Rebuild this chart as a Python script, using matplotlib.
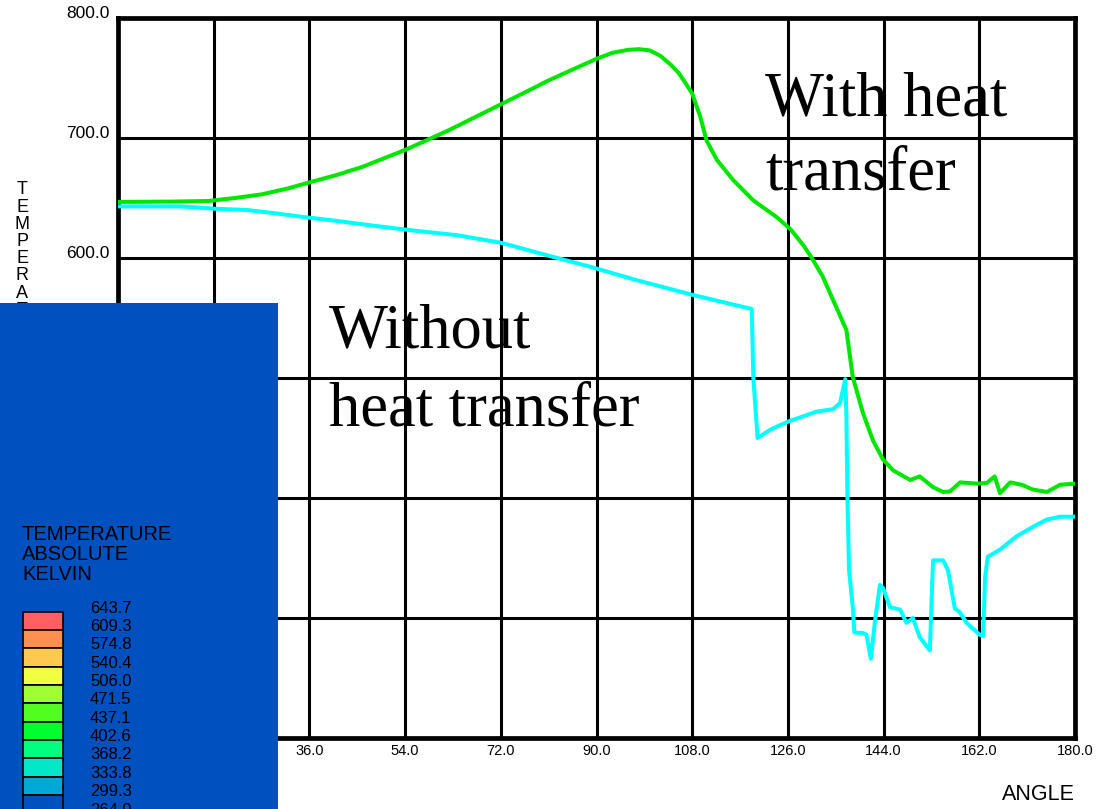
import matplotlib
matplotlib.use('Agg')
from matplotlib import pyplot as plt
from matplotlib.patches import Rectangle

# temperature along the wall, with and without heat transfer
angle_hot = [0, 10, 17, 22, 27, 32, 36, 41, 46, 50, 54, 58, 62, 67, 72, 77, 81, 86,
             90, 93, 96, 98, 100, 102, 104, 105.5, 107, 108, 109.5, 110.7, 112.6,
             115.7, 119.5, 123.9, 126.5, 129, 130.5, 132.5, 134.5, 136, 137, 138.2,
             140.1, 142, 143.9, 145.8, 149, 150.8, 153.3, 155.2, 156.5, 158.4,
             161.6, 163.4, 164.9, 165.9, 167.8, 170, 172.1, 174.7, 177.2, 180]
temp_hot = [646.7, 647, 647.5, 650, 653, 658, 663, 669, 676, 683, 690, 698, 706, 717,
            728, 739, 748, 758, 766, 771, 773.5, 774, 773, 768.5, 761, 754, 744, 737,
            718, 698, 682, 665, 648, 634, 624, 610, 600, 585, 565, 550, 540, 501,
            471, 448, 432, 423, 415, 418, 409, 405, 405.5, 413, 412, 412.5, 418,
            404, 413, 411, 407, 405, 411, 412]

angle_adia = [0, 5, 11.7, 18.4, 24.3, 30, 35.2, 41, 47, 55.3, 63.8, 72.2, 80.5, 89,
              97.4, 108.3, 119.2, 119.5, 120.3, 122.6, 126, 131.4, 134.5, 135.8,
              136.8, 137.0, 137.2, 137.5, 138.2, 138.5, 140.1, 140.8, 141.6, 142.4,
              143.3, 143.9, 145.2, 147.1, 148.3, 149.5, 150.8, 152.7, 153.3, 155.2,
              156.1, 157.4, 158.3, 159.6, 162.1, 162.7, 163.1, 163.6, 165.9, 169,
              172.1, 174.7, 177.2, 180]
temp_adia = [643, 643, 643, 641, 640, 637, 634, 631, 627.5, 623, 619, 612.5, 602.5,
             592.5, 581.7, 569, 557.5, 500, 450, 456.7, 463.6, 472, 474, 479, 499,
             468, 400, 340, 309, 288, 287.5, 286, 266, 298, 327.5, 325, 309, 307, 296,
             300, 284, 273, 348, 348, 340, 308, 305, 296, 286, 285, 334, 351, 357,
             368, 376, 382, 384.4, 384.4]

x_ticks = [0, 18, 36, 54, 72, 90, 108, 126, 144, 162, 180]
y_ticks = [200, 300, 400, 500, 600, 700, 800]
# ticks whose labels sit under the legend panel
x_hidden = [0, 18]
y_hidden = [200, 300, 400, 500]

# contour legend
legend_values = [643.7, 609.3, 574.8, 540.4, 506.0, 471.5, 437.1, 402.6,
                 368.2, 333.8, 299.3, 264.9]
legend_colors = ['#ff6060', '#ff9050', '#ffc850', '#f0ff40', '#a0ff30', '#50ff20',
                 '#00ff30', '#00ff80', '#00e8c8', '#00a8d8', '#0050c0']

W, H = 1111, 809
sans = ['Liberation Sans', 'DejaVu Sans']
serif = ['Liberation Serif', 'DejaVu Serif']

fig = plt.figure(figsize=(W / 100, H / 100), dpi=100)
ax = fig.add_axes([118 / W, 1 - 738 / H, 957 / W, 720 / H])

ax.plot(angle_hot, temp_hot, color='#00e600', lw=2.9, zorder=3)
ax.plot(angle_adia, temp_adia, color='#00ffff', lw=2.9, zorder=3)

ax.set_xlim(0, 180)
ax.set_ylim(200, 800)
ax.set_xticks(x_ticks)
ax.set_xticklabels(['' if v in x_hidden else f'{v:.1f}' for v in x_ticks],
                   family=sans, fontsize=10.5)
ax.set_yticks(y_ticks)
ax.set_yticklabels(['' if v in y_hidden else f'{v:.1f}' for v in y_ticks],
                   family=sans, fontsize=12.5)
for lab in ax.get_yticklabels():
    lab.set_va('baseline')
ax.tick_params(axis='x', length=0, pad=4)
ax.tick_params(axis='y', length=0, pad=6)
ax.grid(True, color='black', lw=2.2)
ax.set_axisbelow(True)
for sp in ax.spines.values():
    sp.set_linewidth(3.4)

ax.text(121.7, 719, 'With heat', family=serif, fontsize=45, va='baseline')
ax.text(121.7, 656.7, 'transfer', family=serif, fontsize=45, va='baseline')
ax.text(39.6, 525.8, 'Without', family=serif, fontsize=45, va='baseline')
ax.text(39.6, 460.8, 'heat transfer', family=serif, fontsize=45, va='baseline')

fig.text(1075 / W, 1 - 795 / H, 'ANGLE', family=sans, fontsize=15.5,
         ha='right', va='center')

# stacked axis title down the left side (lower part hidden by the panel)
for i, ch in enumerate('TEMPERATURE'):
    fig.text(22 / W, 1 - (190 + 17.2 * i) / H, ch, family=sans, fontsize=13,
             ha='center', va='center', zorder=1)

# legend panel drawn over the lower left corner
pan = fig.add_axes([0, 0, 278 / W, (H - 303) / H])
pan.set_zorder(10)
pan.set_facecolor('#0050c0')
pan.set_xlim(0, 278)
pan.set_ylim(H, 303)
pan.set_xticks([])
pan.set_yticks([])
for sp in pan.spines.values():
    sp.set_visible(False)

for i, line in enumerate(['TEMPERATURE', 'ABSOLUTE', 'KELVIN']):
    pan.text(22, 535 + 20 * i, line, family=sans, fontsize=14.5, va='center')

top, step = 611.7, 18.33
for i, c in enumerate(legend_colors):
    pan.add_patch(Rectangle((22.7, top + step * i), 40.6, step, facecolor=c,
                            edgecolor='black', lw=1.2))
for i, v in enumerate(legend_values[:-1]):
    pan.text(90, top + step * i - 3.5, f'{v:.1f}', family=sans, fontsize=12,
             va='center')
# last value only peeks in at the bottom edge
pan.text(90, top + step * 11 - 10, f'{legend_values[-1]:.1f}', family=sans,
         fontsize=12, va='top', clip_on=True)

fig.savefig('out.png', dpi=100)
